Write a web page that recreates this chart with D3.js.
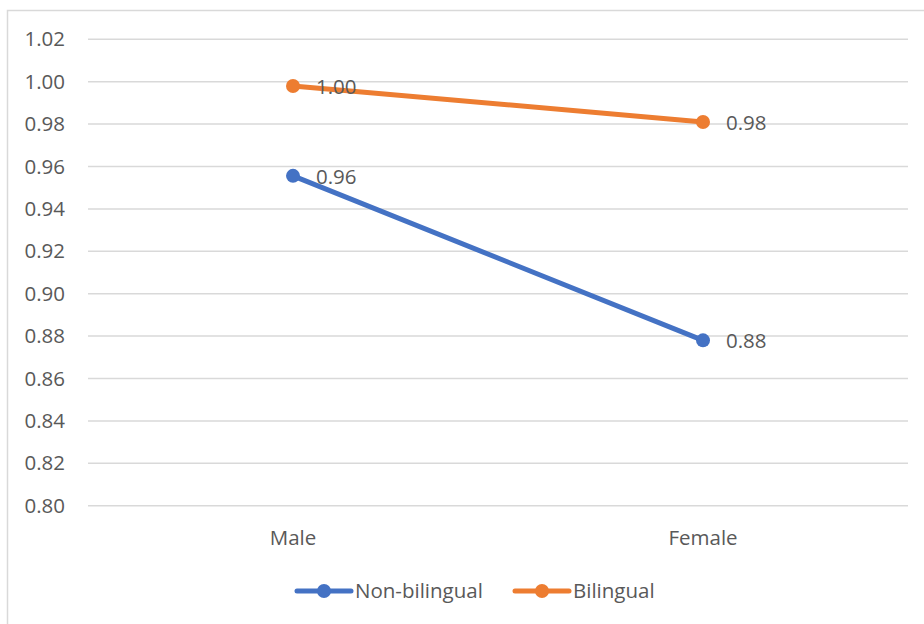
<!DOCTYPE html>
<html>
<head>
<meta charset="utf-8">
<script src="https://cdn.jsdelivr.net/npm/d3@7"></script>
<style>
  html, body { margin: 0; padding: 0; background: #fff; }
  svg { display: block; }
  text { font-family: "Open Sans", Lato, sans-serif; fill: #595959; }
</style>
</head>
<body>
<svg id="chart" width="924" height="624"></svg>
<script>
// Chart data
const categories = ["Male", "Female"];
const seriesNames = ["Non-bilingual", "Bilingual"];
const nonBilingual = [0.9556, 0.878];
const bilingual = [0.998, 0.981];
const seriesColors = ["#4472C4", "#ED7D31"];
const yTicks = [0.80, 0.82, 0.84, 0.86, 0.88, 0.90, 0.92, 0.94, 0.96, 0.98, 1.00, 1.02];

const FONT = "'Open Sans', Lato, sans-serif";
const FS = 20.5;

const series = [
  { name: seriesNames[0], values: nonBilingual, color: seriesColors[0] },
  { name: seriesNames[1], values: bilingual, color: seriesColors[1] }
];

const svg = d3.select("#chart");

// Chart frame
svg.append("rect")
  .attr("x", 7.5).attr("y", 10.5)
  .attr("width", 940).attr("height", 640)
  .attr("fill", "#fff")
  .attr("stroke", "#d9d9d9")
  .attr("stroke-width", 1.5);

const plot = { left: 88, right: 908, top: 39.3, bottom: 505.7 };

const x = d3.scaleBand()
  .domain(categories)
  .range([plot.left, plot.right]);

const y = d3.scaleLinear()
  .domain([0.80, 1.02])
  .range([plot.bottom, plot.top]);

// Gridlines
svg.append("g")
  .selectAll("line")
  .data(yTicks)
  .join("line")
  .attr("x1", plot.left).attr("x2", plot.right)
  .attr("y1", d => y(d)).attr("y2", d => y(d))
  .attr("stroke", "#d9d9d9")
  .attr("stroke-width", 1.5);

// Y axis labels
const yAxis = d3.axisLeft(y)
  .tickValues(yTicks)
  .tickFormat(d3.format(".2f"))
  .tickSize(0)
  .tickPadding(0);
const yg = svg.append("g")
  .attr("transform", `translate(${plot.left - 23},0)`)
  .call(yAxis);
yg.select(".domain").remove();
yg.selectAll("text")
  .attr("font-size", FS)
  .attr("fill", "#595959")
  .style("font-family", FONT);

// X axis labels
const xAxis = d3.axisBottom(x).tickSize(0).tickPadding(0);
const xg = svg.append("g")
  .attr("transform", `translate(0,${plot.bottom + 25})`)
  .call(xAxis);
xg.select(".domain").remove();
xg.selectAll("text")
  .attr("font-size", FS)
  .attr("fill", "#595959")
  .style("font-family", FONT);

const cx = c => x(c) + x.bandwidth() / 2;

const line = d3.line()
  .x((d, i) => cx(categories[i]))
  .y(d => y(d));

const sg = svg.append("g")
  .selectAll("g")
  .data(series)
  .join("g");

sg.append("path")
  .attr("d", d => line(d.values))
  .attr("fill", "none")
  .attr("stroke", d => d.color)
  .attr("stroke-width", 5)
  .attr("stroke-linecap", "round");

sg.selectAll("circle")
  .data(d => d.values.map((v, i) => ({ v, i, color: d.color })))
  .join("circle")
  .attr("cx", d => cx(categories[d.i]))
  .attr("cy", d => y(d.v))
  .attr("r", 7)
  .attr("fill", d => d.color);

// Data labels
sg.selectAll("text.value")
  .data(d => d.values.map((v, i) => ({ v, i })))
  .join("text")
  .attr("class", "value")
  .attr("x", d => cx(categories[d.i]) + 23)
  .attr("y", d => y(d.v))
  .attr("dy", "0.38em")
  .attr("font-size", FS)
  .text(d => d3.format(".2f")(d.v));

// Legend
const legend = svg.append("g").attr("transform", "translate(0,591)");
const legendItems = [
  { name: seriesNames[0], color: seriesColors[0], x0: 297 },
  { name: seriesNames[1], color: seriesColors[1], x0: 515 }
];
const li = legend.selectAll("g")
  .data(legendItems)
  .join("g")
  .attr("transform", d => `translate(${d.x0},0)`);
li.append("line")
  .attr("x1", 0).attr("x2", 54)
  .attr("y1", 0).attr("y2", 0)
  .attr("stroke", d => d.color)
  .attr("stroke-width", 5)
  .attr("stroke-linecap", "round");
li.append("circle")
  .attr("cx", 27).attr("cy", 0).attr("r", 7)
  .attr("fill", d => d.color);
li.append("text")
  .attr("x", 58).attr("y", 0).attr("dy", "0.35em")
  .attr("font-size", FS)
  .text(d => d.name);
</script>
</body>
</html>
